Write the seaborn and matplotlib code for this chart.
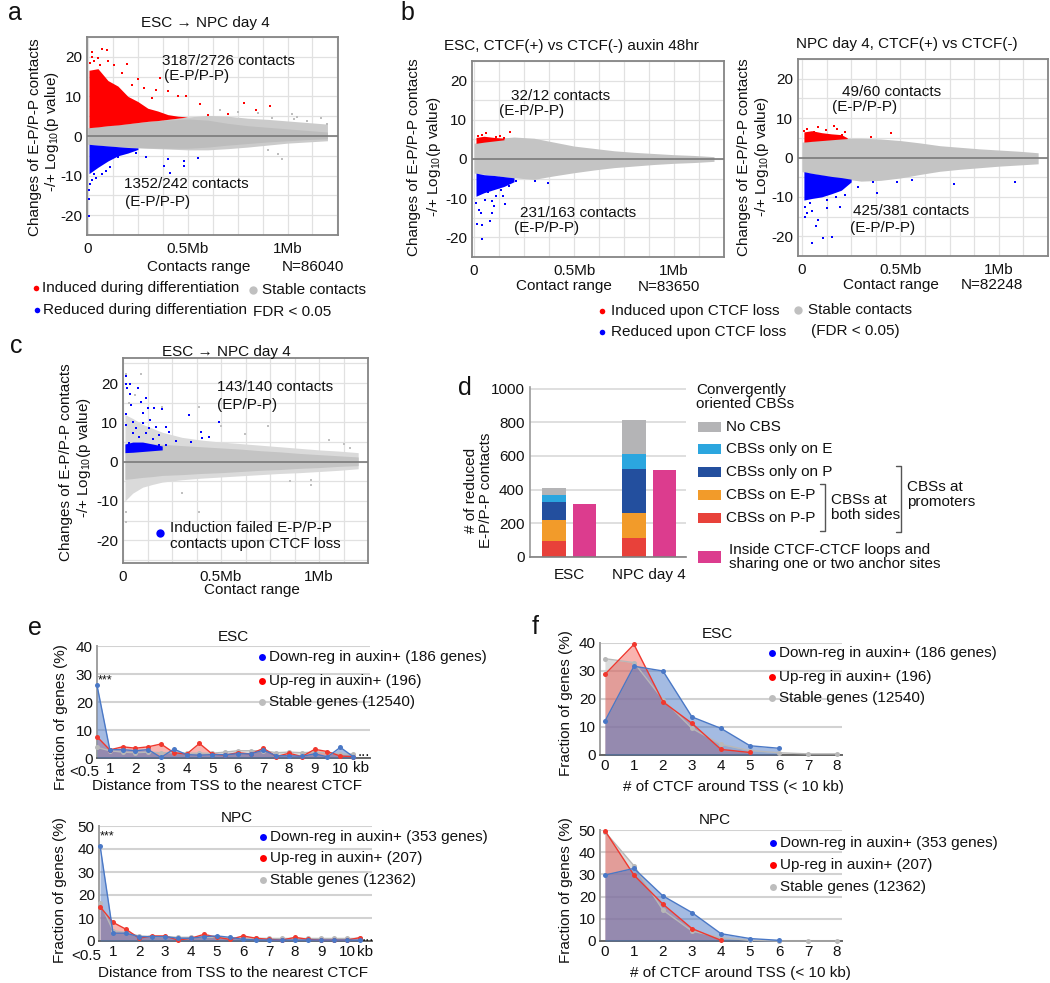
import numpy as np
import pandas as pd
import matplotlib
matplotlib.use("Agg")
import matplotlib.pyplot as plt
from matplotlib.lines import Line2D
from matplotlib.patches import Rectangle
import seaborn as sns

# ====================== DATA ======================
# ---- panel a : ESC -> NPC day 4 ----
A_ENV_X = [0.0, 0.1, 0.2, 0.3, 0.4, 0.5, 0.6, 0.7, 0.8, 0.9, 1.0, 1.1, 1.2]
A_GREY_HI = [2.1, 2.6, 3.1, 3.7, 4.2, 4.8, 5.2, 5.0, 4.5, 4.2, 3.8, 3.4, 3.0]
A_GREY_LO = [-2.1, -2.5, -2.9, -3.1, -3.3, -3.5, -3.5, -3.2, -2.8, -2.3, -1.8, -1.5, -1.2]
A_CORE_HI = [2.1, 2.6, 3.1, 3.6, 4.0, 4.3, 4.0, 3.2, 2.6, 2.2, 1.8, 1.4, 1.0]
A_CORE_LO = [-2.1, -2.5, -2.8, -3.0, -3.1, -3.1, -2.8, -2.3, -1.9, -1.5, -1.2, -0.9, -0.7]
A_RED_X = [0.005, 0.05, 0.1, 0.15, 0.2, 0.25, 0.3, 0.35, 0.4, 0.45, 0.5]
A_RED_HI = [16.6, 17.0, 14.0, 12.6, 10.0, 8.7, 7.0, 6.3, 5.4, 5.0, 4.8]
A_RED_LO = [2.1, 2.3, 2.6, 2.8, 3.1, 3.4, 3.7, 3.9, 4.2, 4.5, 4.8]
A_BLUE_X = [0.005, 0.05, 0.1, 0.15, 0.2, 0.25]
A_BLUE_HI = [-2.1, -2.3, -2.5, -2.7, -2.9, -3.0]
A_BLUE_LO = [-9.5, -7.9, -6.3, -5.0, -4.3, -3.4]
A_RED_PX = [0.022, 0.072, 0.093, 0.02, 0.03, 0.05, 0.197, 0.36, 0.34, 0.25, 0.40, 0.45,
            0.49, 0.56, 0.78, 0.84, 0.91, 0.70, 0.60, 0.13, 0.17, 0.28, 0.10, 0.01, 0.06, 0.22, 0.32]
A_RED_PY = [21.3, 22.0, 21.8, 20.0, 19.0, 19.7, 18.2, 14.7, 11.6, 14.5, 11.3, 10.2,
            10.2, 8.0, 8.3, 6.6, 7.7, 5.5, 5.2, 18.0, 16.0, 12.0, 19.0, 18.5, 18.0, 13.0, 9.5]
A_BLUE_PX = [0.005, 0.006, 0.005, 0.01, 0.03, 0.07, 0.11, 0.15, 0.24, 0.29, 0.38, 0.41,
             0.40, 0.48, 0.48, 0.55, 0.02, 0.04, 0.09]
A_BLUE_PY = [-20.3, -15.8, -13.7, -12.0, -9.6, -9.6, -7.9, -5.4, -4.2, -5.3, -7.7, -9.3,
             -5.8, -6.2, -7.7, -5.6, -11.0, -10.5, -8.8]
A_GREY_PX = [0.95, 0.97, 1.02, 1.05, 1.10, 1.17, 1.20, 0.85, 0.90, 0.75, 0.66, 1.03, 0.92]
A_GREY_PY = [-4.5, -5.8, 5.5, 4.8, 3.7, 4.5, 3.0, 5.8, -3.5, 6.0, 6.5, 4.4, 4.5]

# ---- panel b (left) : ESC, CTCF(+) vs CTCF(-) ----
B1_ENV_X = [0.0, 0.1, 0.2, 0.3, 0.4, 0.5, 0.6, 0.7, 0.8, 0.9, 1.0, 1.1, 1.2]
B1_GREY_HI = [4.0, 5.2, 5.6, 5.3, 4.3, 3.3, 2.7, 2.1, 1.7, 1.4, 1.1, 0.9, 0.6]
B1_GREY_LO = [-3.6, -4.2, -4.8, -5.2, -4.3, -3.5, -2.8, -2.2, -1.8, -1.4, -1.1, -0.9, -0.6]
B1_RED_X = [0.01, 0.05, 0.1, 0.15]
B1_RED_HI = [5.5, 5.8, 5.5, 5.3]
B1_RED_LO = [4.0, 4.3, 4.6, 4.9]
B1_BLUE_X = [0.01, 0.05, 0.1, 0.15, 0.2]
B1_BLUE_HI = [-3.6, -4.0, -4.2, -4.5, -4.8]
B1_BLUE_LO = [-9.5, -8.6, -7.8, -7.0, -5.8]
B1_RED_PX = [0.02, 0.04, 0.06, 0.08, 0.11, 0.13, 0.15, 0.18, 0.03, 0.09]
B1_RED_PY = [5.8, 6.0, 6.6, 5.2, 5.6, 5.9, 5.4, 6.8, 4.6, 4.9]
B1_BLUE_PX = [0.014, 0.042, 0.079, 0.042, 0.025, 0.053, 0.090, 0.111, 0.155, 0.068, 0.133,
              0.209, 0.306, 0.371, 0.100, 0.025, 0.008, 0.036, 0.090, 0.144, 0.177]
B1_BLUE_PY = [-16.7, -16.8, -15.8, -20.5, -12.9, -10.4, -10.8, -9.5, -11.6, -8.3, -7.8,
              -5.7, -5.7, -6.0, -12.0, -8.5, -11.2, -13.7, -13.7, -9.5, -7.0]

# ---- panel b (right) : NPC day 4, CTCF(+) vs CTCF(-) ----
B2_ENV_X = [0.0, 0.1, 0.2, 0.3, 0.4, 0.5, 0.6, 0.7, 0.8, 0.9, 1.0, 1.1, 1.2]
B2_GREY_HI = [3.9, 4.6, 4.9, 4.9, 4.7, 4.3, 3.7, 3.0, 2.6, 2.2, 1.9, 1.6, 1.2]
B2_GREY_LO = [-3.6, -4.5, -5.3, -6.0, -5.8, -5.2, -4.3, -3.5, -3.0, -2.6, -2.2, -1.9, -1.6]
B2_RED_X = [0.01, 0.05, 0.1, 0.15, 0.2, 0.23]
B2_RED_HI = [6.5, 6.8, 6.3, 6.0, 5.8, 5.0]
B2_RED_LO = [3.9, 4.1, 4.3, 4.5, 4.7, 4.8]
B2_BLUE_X = [0.01, 0.05, 0.1, 0.15, 0.2, 0.25]
B2_BLUE_HI = [-3.6, -4.0, -4.4, -4.8, -5.1, -5.5]
B2_BLUE_LO = [-10.8, -10.4, -10.0, -9.2, -8.3, -6.2]
B2_RED_PX = [0.028, 0.084, 0.161, 0.217, 0.35, 0.45, 0.206, 0.062, 0.01, 0.12, 0.18]
B2_RED_PY = [7.3, 7.7, 8.1, 6.5, 5.3, 6.3, 5.7, 6.5, 6.8, 7.0, 7.2]
B2_BLUE_PX = [0.018, 0.028, 0.084, 0.051, 0.129, 0.173, 0.217, 0.284, 0.361, 0.383, 0.483,
              0.56, 0.771, 1.081, 0.129, 0.107, 0.151, 0.051, 0.018, 0.195, 0.04, 0.07]
B2_BLUE_PY = [-12.5, -14.2, -15.9, -13.7, -10.8, -10.0, -9.6, -7.4, -6.2, -9.0, -6.2,
              -5.7, -6.8, -6.2, -12.9, -20.5, -20.2, -21.8, -15.0, -12.5, -11.5, -17.5]

# ---- panel c : induction failed contacts ----
C_ENV_X = [0.01, 0.05, 0.1, 0.15, 0.2, 0.3, 0.4, 0.5, 0.6, 0.7, 0.8, 0.9, 1.0, 1.1, 1.2]
C_GREY_HI = [12, 11, 9.5, 8.5, 7.5, 6.2, 5.5, 5.0, 4.6, 4.2, 3.8, 3.4, 3.0, 2.7, 2.3]
C_GREY_LO = [-10, -8, -6.5, -5.8, -5.2, -4.6, -4.2, -3.9, -3.6, -3.3, -3.0, -2.8, -2.5, -2.2, -1.8]
C_CORE_HI = [4.5, 4.8, 4.8, 4.6, 4.4, 4.1, 3.8, 3.5, 3.2, 2.8, 2.5, 2.1, 1.8, 1.5, 1.2]
C_CORE_LO = [-4.5, -4.3, -4.0, -3.8, -3.5, -3.3, -3.0, -2.8, -2.5, -2.2, -2.0, -1.7, -1.5, -1.2, -1.0]
C_BLUE_X = [0.01, 0.05, 0.1, 0.15, 0.2]
C_BLUE_HI = [4.5, 5.0, 5.0, 4.5, 4.0]
C_BLUE_LO = [2.3, 2.4, 2.6, 2.8, 3.0]
C_BLUE_PX = [0.017, 0.015, 0.035, 0.02, 0.076, 0.037, 0.118, 0.093, 0.16, 0.2, 0.126, 0.015,
             0.017, 0.05, 0.10, 0.14, 0.168, 0.219, 0.236, 0.27, 0.337, 0.345, 0.396, 0.404,
             0.438, 0.492, 0.05, 0.084, 0.118, 0.152, 0.185, 0.03, 0.067, 0.135, 0.185, 0.219,
             0.04, 0.10]
C_BLUE_PY = [21.7, 19.9, 19.7, 18.7, 18.7, 17.2, 16.3, 15.3, 13.6, 13.4, 13.6, 12.1,
             9.4, 10.2, 9.8, 10.6, 8.9, 8.9, 7.6, 5.3, 12.0, 5.0, 7.5, 6.1,
             6.4, 10.2, 7.2, 6.3, 7.2, 5.9, 6.8, 4.7, 8.5, 8.5, 4.2, 4.2,
             14.4, 12.3]
C_GREY_PX = [0.093, 0.017, 0.39, 0.74, 1.13, 1.16, 0.96, 0.96, 0.39, 0.017, 0.015, 0.03,
             0.06, 0.2, 0.5, 0.62, 0.85, 1.05, 0.3]
C_GREY_PY = [22.3, 22.2, 14.0, 9.1, 4.4, 3.4, -4.7, -6.0, -12.8, -15.3, -12.8, 15.0,
             17.0, 14.0, 9.0, 7.0, -5.0, 5.5, -8.0]

# ---- panel d : reduced E-P/P-P contacts ----
D_GROUPS = ["ESC", "NPC day 4"]
D_PP = [93, 115]
D_EP = [129, 146]
D_ONLY_P = [105, 260]
D_ONLY_E = [39, 93]
D_NO_CBS = [44, 202]
D_INSIDE = [317, 519]
D_LABELS = ["No CBS", "CBSs only on E", "CBSs only on P", "CBSs on E-P", "CBSs on P-P"]

# ---- panel e : distance from TSS to nearest CTCF ----
E_X = [0.5, 1, 1.5, 2, 2.5, 3, 3.5, 4, 4.5, 5, 5.5, 6, 6.5, 7, 7.5, 8, 8.5, 9, 9.5, 10, 10.5]
E_XTICKS = [1, 2, 3, 4, 5, 6, 7, 8, 9, 10]
E_ESC_DOWN = [26.0, 3.0, 3.0, 2.6, 3.0, 0.2, 3.2, 1.2, 1.0, 1.2, 1.2, 1.5, 1.5, 2.8, 0.8, 0.8, 0.6, 1.5, 0.4, 3.8, 0.5]
E_ESC_UP = [7.6, 2.9, 4.0, 3.5, 4.0, 5.0, 1.9, 1.4, 5.2, 1.4, 1.0, 1.9, 1.4, 3.5, 0.5, 1.7, 0.5, 3.1, 2.3, 0.7, 0.5]
E_ESC_STABLE = [3.8, 2.6, 2.1, 1.9, 2.1, 1.9, 1.9, 1.7, 1.7, 1.7, 2.1, 2.6, 2.6, 2.6, 1.9, 2.1, 1.9, 2.1, 1.9, 1.4, 1.4]
E_NPC_DOWN = [41.5, 3.4, 3.4, 1.9, 1.9, 1.9, 1.2, 1.2, 1.9, 2.2, 1.6, 0.7, 0.5, 0.4, 0.4, 0.4, 0.4, 0.4, 0.4, 0.4, 0.4]
E_NPC_UP = [14.9, 8.1, 5.1, 1.2, 2.2, 2.2, 0.4, 1.2, 2.9, 1.6, 0.7, 2.2, 1.2, 0.7, 0.4, 1.6, 0.7, 0.4, 0.4, 0.4, 1.5]
E_NPC_STABLE = [16.6, 4.5, 3.7, 2.2, 1.9, 1.9, 1.6, 1.6, 1.6, 1.6, 1.2, 1.2, 1.2, 1.1, 1.1, 1.1, 1.1, 1.1, 1.1, 1.1, 1.1]

# ---- panel f : number of CTCF around TSS ----
F_X = [0, 1, 2, 3, 4, 5, 6, 7, 8]
F_ESC_DOWN = [12.1, 31.7, 30.0, 13.6, 9.5, 3.3, 2.4]
F_ESC_UP = [28.8, 39.5, 19.0, 11.3, 2.0, 0.9]
F_ESC_STABLE = [34.4, 33.0, 19.8, 9.5, 3.8, 1.6, 0.8, 0.4, 0.4]
F_NPC_DOWN = [29.7, 32.7, 20.3, 12.8, 3.3, 1.1, 0.3]
F_NPC_UP = [49.7, 29.7, 16.6, 5.6, 0.3]
F_NPC_STABLE = [49.2, 33.9, 13.9, 4.5, 1.5, 0.3, 0.0, 0.0, 0.0]

# ====================== STYLE ======================
sns.set_theme(style="white")
plt.rcParams['font.family'] = ['Liberation Sans', 'DejaVu Sans']
plt.rcParams['mathtext.fontset'] = 'custom'
plt.rcParams['mathtext.rm'] = 'Liberation Sans'
plt.rcParams['mathtext.it'] = 'Liberation Sans:italic'
plt.rcParams['axes.unicode_minus'] = False

W, H = 1050, 983
FS = 11
TXT = '#111111'
RED, BLUE = '#ff0000', '#0000ff'

fig = plt.figure(figsize=(W / 100, H / 100), dpi=100)
fig.patch.set_facecolor('white')


def add_ax(l, t, r, b):
    return fig.add_axes([l / W, 1 - b / H, (r - l) / W, (b - t) / H])


def txt(x, y, s, size=FS, ha='center', va='center', rot=0, color=TXT, **kw):
    fig.text(x / W, 1 - y / H, s, fontsize=size, ha=ha, va=va, rotation=rot, color=color, **kw)


def dot(x, y, color, ms=5):
    fig.add_artist(Line2D([x / W], [1 - y / H], transform=fig.transFigure, marker='o',
                          ms=ms, color=color, ls='none', mew=0))


def seg(xs, ys, color='#555555', lw=1.0):
    fig.add_artist(Line2D([v / W for v in xs], [1 - v / H for v in ys],
                          transform=fig.transFigure, color=color, lw=lw))


def scatter_axes(box, xlim, ylim):
    ax = add_ax(*box)
    ax.set_facecolor('white')
    ax.set_xlim(*xlim)
    ax.set_ylim(*ylim)
    ax.set_xticks([0, 0.5, 1.0])
    ax.set_xticklabels(['0', '0.5Mb', '1Mb'])
    ax.set_yticks([-20, -10, 0, 10, 20])
    ax.set_yticklabels(['-20', '-10', '0', '10', '20'])
    ax.set_xticks(np.arange(0, 1.26, 0.125), minor=True)
    ax.set_yticks(np.arange(-25, 26, 5), minor=True)
    ax.grid(True, which='both', color='#e1e1e1', lw=0.9)
    ax.set_axisbelow(True)
    for sp in ax.spines.values():
        sp.set_visible(True)
        sp.set_color('#858585')
        sp.set_linewidth(1.3)
    ax.tick_params(which='both', length=0, labelsize=FS, pad=5, labelcolor=TXT)
    ax.tick_params(axis='y', pad=3.5)
    ax.axhline(0, color='#7a7a7a', lw=1.2, zorder=3)
    ax.set_xlabel('')
    ax.set_ylabel('')
    return ax


def fill(ax, x, lo, hi, color, z):
    ax.fill_between(x, lo, hi, color=color, lw=0, zorder=z)


def pts(ax, x, y, color, s=3.5):
    sns.scatterplot(x=x, y=y, ax=ax, color=color, marker='s', s=s, linewidth=0,
                    legend=False, zorder=4)


# ====================== PANEL a ======================
ax = scatter_axes((87, 37, 338, 235), (-0.005, 1.253), (-25, 24.5))
fill(ax, A_ENV_X, A_GREY_LO, A_GREY_HI, '#cbcbcb', 1)
fill(ax, A_ENV_X, A_CORE_LO, A_CORE_HI, '#bdbdbd', 1.2)
fill(ax, A_RED_X, A_RED_LO, A_RED_HI, RED, 2)
fill(ax, A_BLUE_X, A_BLUE_LO, A_BLUE_HI, BLUE, 2)
pts(ax, A_GREY_PX, A_GREY_PY, '#bdbdbd')
pts(ax, A_RED_PX, A_RED_PY, RED)
pts(ax, A_BLUE_PX, A_BLUE_PY, BLUE)

txt(8, 13, 'a', size=18, ha='left')
txt(205, 23, 'ESC → NPC day 4')
txt(35, 137, 'Changes of E-P/P-P contacts', rot=90)
txt(52, 132, '-/+ Log$_{10}$(p value)', rot=90)
txt(228, 61, '3187/2726 contacts')
txt(197, 76, '(E-P/P-P)')
txt(186, 184, '1352/242 contacts')
txt(158, 202, '(E-P/P-P)')
txt(199, 267, 'Contacts range')
txt(313, 267, 'N=86040')
dot(36, 288, RED, 4)
txt(42, 288, 'Induced during differentiation', ha='left')
dot(37, 310, BLUE, 4)
txt(43, 310, 'Reduced during differentiation', ha='left')
dot(253, 290, '#c0c0c0', 6)
txt(262, 290, 'Stable contacts', ha='left')
txt(253, 312, 'FDR < 0.05', ha='left')

# ====================== PANEL b ======================
ax = scatter_axes((472, 61, 724, 257), (-0.01, 1.225), (-24.7, 24.7))
fill(ax, B1_ENV_X, B1_GREY_LO, B1_GREY_HI, '#c4c4c4', 1)
fill(ax, B1_RED_X, B1_RED_LO, B1_RED_HI, RED, 2)
fill(ax, B1_BLUE_X, B1_BLUE_LO, B1_BLUE_HI, BLUE, 2)
pts(ax, B1_RED_PX, B1_RED_PY, RED)
pts(ax, B1_BLUE_PX, B1_BLUE_PY, BLUE)

ax = scatter_axes((798, 59, 1048, 256), (-0.02, 1.236), (-25, 24.9))
fill(ax, B2_ENV_X, B2_GREY_LO, B2_GREY_HI, '#c4c4c4', 1)
fill(ax, B2_RED_X, B2_RED_LO, B2_RED_HI, RED, 2)
fill(ax, B2_BLUE_X, B2_BLUE_LO, B2_BLUE_HI, BLUE, 2)
pts(ax, B2_RED_PX, B2_RED_PY, RED)
pts(ax, B2_BLUE_PX, B2_BLUE_PY, BLUE)

txt(400, 13, 'b', size=18, ha='left')
txt(571, 46, 'ESC, CTCF(+) vs CTCF(-) auxin 48hr')
txt(907, 44, 'NPC day 4, CTCF(+) vs CTCF(-)')
for xl, xr in ((414, 434), (744, 762)):
    txt(xl, 157, 'Changes of E-P/P-P contacts', rot=90)
    txt(xr, 157, '-/+ Log$_{10}$(p value)', rot=90)
txt(561, 96, '32/12 contacts')
txt(532, 111, '(E-P/P-P)')
txt(578, 213, '231/163 contacts')
txt(547, 228, '(E-P/P-P)')
txt(892, 92, '49/60 contacts')
txt(865, 107, '(E-P/P-P)')
txt(911, 211, '425/381 contacts')
txt(883, 228, '(E-P/P-P)')
txt(564, 286, 'Contact range')
txt(669, 287, 'N=83650')
txt(891, 285, 'Contact range')
txt(992, 285, 'N=82248')
dot(602, 311, RED, 4)
txt(611, 311, 'Induced upon CTCF loss', ha='left')
dot(602, 332, BLUE, 4)
txt(611, 332, 'Reduced upon CTCF loss', ha='left')
dot(798, 310, '#c0c0c0', 6)
txt(808, 310, 'Stable contacts', ha='left')
txt(811, 331, '(FDR < 0.05)', ha='left')

# ====================== PANEL c ======================
ax = scatter_axes((123, 358, 368, 563), (0.0, 1.236), (-25.8, 26.4))
fill(ax, C_ENV_X, C_GREY_LO, C_GREY_HI, '#dadada', 1)
fill(ax, C_ENV_X, C_CORE_LO, C_CORE_HI, '#c4c4c4', 1.2)
pts(ax, C_GREY_PX, C_GREY_PY, '#c0c0c0')
fill(ax, C_BLUE_X, C_BLUE_LO, C_BLUE_HI, BLUE, 2)
pts(ax, C_BLUE_PX, C_BLUE_PY, BLUE)

txt(10, 346, 'c', size=18, ha='left')
txt(226, 352, 'ESC → NPC day 4')
txt(66, 462, 'Changes of E-P/P-P contacts', rot=90)
txt(84, 458, '-/+ Log$_{10}$(p value)', rot=90)
txt(275, 387, '143/140 contacts')
txt(247, 405, '(EP/P-P)')
txt(252, 590, 'Contact range')
dot(160, 533, BLUE, 6)
txt(170, 528, 'Induction failed E-P/P-P', ha='left')
txt(170, 544, 'contacts upon CTCF loss', ha='left')

# ====================== PANEL d ======================
D_COLORS = ['#b4b4b6', '#2ba6df', '#234f9e', '#f29b2a', '#e8413a']
PINK = '#dc3c8e'
ax = add_ax(530, 387, 686, 557)
gx = np.arange(len(D_GROUPS))
stack = [D_PP, D_EP, D_ONLY_P, D_ONLY_E, D_NO_CBS]
stack_cols = [D_COLORS[4], D_COLORS[3], D_COLORS[2], D_COLORS[1], D_COLORS[0]]
bottom = np.zeros(len(D_GROUPS))
for vals, col in zip(stack, stack_cols):
    ax.bar(gx - 0.19, vals, width=0.29, bottom=bottom, color=col, lw=0, zorder=2)
    bottom = bottom + np.array(vals)
ax.bar(gx + 0.19, D_INSIDE, width=0.29, color=PINK, lw=0, zorder=2)
ax.set_xlim(-0.49, 1.46)
ax.set_ylim(0, 1009)
ax.set_yticks([0, 200, 400, 600, 800, 1000])
ax.set_yticklabels(['0', '200', '400', '600', '800', '1000'])
ax.set_xticks(gx)
ax.set_xticklabels(D_GROUPS)
ax.grid(True, axis='y', color='#d9d9d9', lw=1.2)
ax.grid(False, axis='x')
ax.set_axisbelow(True)
for k in ('top', 'right'):
    ax.spines[k].set_visible(False)
ax.spines['left'].set_color('#9a9a9a')
ax.spines['bottom'].set_color('#808080')
ax.spines['left'].set_linewidth(1.2)
ax.spines['bottom'].set_linewidth(1.2)
ax.tick_params(length=0, labelsize=FS, labelcolor=TXT)
ax.tick_params(axis='x', pad=8)
ax.tick_params(axis='y', pad=4)

txt(458, 388, 'd', size=18, ha='left')
txt(471, 490, '# of reduced', rot=90)
txt(486, 490, 'E-P/P-P contacts', rot=90)
txt(696, 390, 'Convergently', ha='left')
txt(696, 404, 'oriented CBSs', ha='left')
for yy, col, lab in zip([427, 449, 472, 495, 518], D_COLORS, D_LABELS):
    fig.add_artist(Rectangle((698 / W, 1 - (yy + 5) / H), 23 / W, 10 / H,
                             transform=fig.transFigure, color=col, lw=0))
    txt(726, yy, lab, ha='left')
fig.add_artist(Rectangle((698 / W, 1 - 563 / H), 23 / W, 12 / H,
                         transform=fig.transFigure, color=PINK, lw=0))
txt(729, 550, 'Inside CTCF-CTCF loops and', ha='left')
txt(729, 564, 'sharing one or two anchor sites', ha='left')
seg([820, 825, 825, 820], [484, 484, 531, 531])
txt(831, 500, 'CBSs at', ha='left')
txt(831, 515, 'both sides', ha='left')
seg([896, 901, 901, 896], [466, 466, 532, 532])
txt(907, 487, 'CBSs at', ha='left')
txt(907, 502, 'promoters', ha='left')

# ====================== PANELS e & f ======================
LB, LR, LG = '#4a78c6', '#f0382e', '#b8b8b8'


def line_panel(box, xlim, ylim, yticks, xticks, xticklabels, series):
    ax = add_ax(*box)
    ax.set_xlim(*xlim)
    ax.set_ylim(*ylim)
    ax.set_yticks(yticks)
    ax.set_yticklabels([str(v) for v in yticks])
    ax.set_xticks(xticks)
    ax.set_xticklabels(xticklabels)
    ax.grid(True, axis='y', color='#d2d2d2', lw=1.5)
    ax.grid(False, axis='x')
    ax.set_axisbelow(True)
    for k in ('top', 'right'):
        ax.spines[k].set_visible(False)
    ax.spines['left'].set_color('#a0a0a0')
    ax.spines['left'].set_linewidth(1.4)
    ax.spines['bottom'].set_color('#666666')
    ax.spines['bottom'].set_linewidth(1.4)
    ax.tick_params(length=0, labelsize=FS, labelcolor=TXT, pad=3)
    for (x, y, lc, fa), z in zip(series, (1, 2, 3)):
        ax.fill_between(x, 0, y, color=lc, alpha=fa, lw=0, zorder=z)
    for (x, y, lc, fa), z in zip(series, (5, 6, 7)):
        sns.lineplot(x=x, y=y, ax=ax, color=lc, lw=1.0, marker='o', markersize=3.6,
                     markeredgewidth=0, legend=False, zorder=z, clip_on=False,
                     estimator=None, sort=False)
    ax.set_xlabel('')
    ax.set_ylabel('')
    return ax


def legend3(xd, ys, labels):
    for yy, col, lab in zip(ys, (BLUE, RED, '#bdbdbd'), labels):
        dot(xd, yy, col, 5)
        txt(xd + 7, yy, lab, ha='left')


# e (ESC)
ax = line_panel((97, 646, 370, 758), (0.5, 11.16), (0, 40), [0, 10, 20, 30, 40],
                E_XTICKS, [str(v) for v in E_XTICKS],
                [(E_X, E_ESC_STABLE, LG, 0.5), (E_X, E_ESC_UP, LR, 0.38),
                 (E_X, E_ESC_DOWN, LB, 0.5)])
txt(28, 628, 'e', size=18, ha='left')
txt(233, 637, 'ESC')
txt(84, 772, '<0.5')
txt(361, 768, 'kb')
txt(364, 752, '...')
txt(105, 680, '***', size=9)
txt(61, 717, 'Fraction of genes (%)', rot=90)
txt(227, 786, 'Distance from TSS to the nearest CTCF')
legend3(262, [657, 681, 702], ['Down-reg in auxin+ (186 genes)', 'Up-reg in auxin+ (196)',
                               'Stable genes (12540)'])

# e (NPC)
ax = line_panel((99, 826, 372, 941), (0.46, 10.96), (0, 50), [0, 10, 20, 30, 40, 50],
                E_XTICKS, [str(v) for v in E_XTICKS],
                [(E_X, E_NPC_STABLE, LG, 0.5), (E_X, E_NPC_UP, LR, 0.38),
                 (E_X, E_NPC_DOWN, LB, 0.5)])
txt(237, 818, 'NPC')
txt(86, 956, '<0.5')
txt(365, 952, 'kb')
txt(368, 937, '...')
txt(107, 836, '***', size=9)
txt(60, 890, 'Fraction of genes (%)', rot=90)
txt(233, 973, 'Distance from TSS to the nearest CTCF')
legend3(263, [837, 858, 880], ['Down-reg in auxin+ (353 genes)', 'Up-reg in auxin+ (207)',
                               'Stable genes (12362)'])

# f (ESC)
ax = line_panel((600, 643, 842, 755), (-0.17, 8.17), (0, 40), [0, 10, 20, 30, 40],
                F_X, [str(v) for v in F_X],
                [(F_X, F_ESC_STABLE, LG, 0.5), (F_X[:len(F_ESC_UP)], F_ESC_UP, LR, 0.38),
                 (F_X[:len(F_ESC_DOWN)], F_ESC_DOWN, LB, 0.5)])
txt(532, 627, 'f', size=18, ha='left')
txt(717, 634, 'ESC')
txt(566, 703, 'Fraction of genes (%)', rot=90)
txt(733, 787, '# of CTCF around TSS (< 10 kb)')
legend3(772, [653, 677, 698], ['Down-reg in auxin+ (186 genes)', 'Up-reg in auxin+ (196)',
                               'Stable genes (12540)'])

# f (NPC)
ax = line_panel((600, 830, 842, 941), (-0.17, 8.17), (0, 50), [0, 10, 20, 30, 40, 50],
                F_X, [str(v) for v in F_X],
                [(F_X, F_NPC_STABLE, LG, 0.5), (F_X[:len(F_NPC_UP)], F_NPC_UP, LR, 0.38),
                 (F_X[:len(F_NPC_DOWN)], F_NPC_DOWN, LB, 0.5)])
txt(715, 820, 'NPC')
txt(566, 890, 'Fraction of genes (%)', rot=90)
txt(740, 973, '# of CTCF around TSS (< 10 kb)')
legend3(773, [843, 865, 887], ['Down-reg in auxin+ (353 genes)', 'Up-reg in auxin+ (207)',
                               'Stable genes (12362)'])

fig.savefig('out.png', dpi=100, facecolor='white')
